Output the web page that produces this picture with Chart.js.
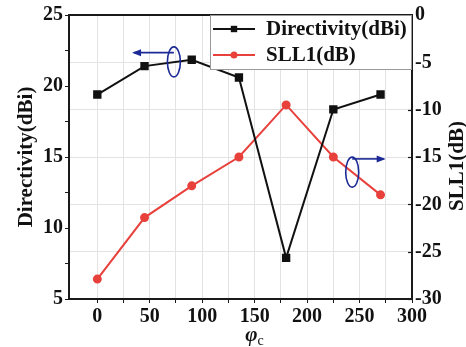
<!DOCTYPE html>
<html>
<head>
<meta charset="utf-8">
<script src="https://cdn.jsdelivr.net/npm/chart.js@4.4.1/dist/chart.umd.min.js"></script>
<style>
  html, body { margin: 0; padding: 0; background: #fff; }
  #wrap { width: 466px; height: 347px; }
</style>
</head>
<body>
<div id="wrap"><canvas id="c"></canvas></div>
<script>
// data
const phiC = [0, 45, 90, 135, 180, 225, 270];
const directivity = [19.4, 21.4, 21.85, 20.6, 7.9, 18.35, 19.4];
const sll1 = [-27.9, -21.4, -18.05, -15.0, -9.5, -15.0, -19.0];
const xTicks = [0, 25, 50, 75, 100, 125, 150, 175, 200, 225, 250, 275, 300];

const FONT = 'Liberation Serif';
const RED = '#e8413c';
const NAVY = '#1b2a96';

const toPts = (xs, ys) => xs.map((x, i) => ({ x: x, y: ys[i] }));

// box, legend, axis titles, blue ellipse+arrow marks
const decorPlugin = {
  id: 'decor',
  afterDatasetsDraw(chart) {
    const { ctx, chartArea: a, scales } = chart;
    const xs = scales.x, yl = scales.yL, yr = scales.yR;
    ctx.save();

    // frame
    ctx.strokeStyle = '#1a1a1a';
    ctx.lineWidth = 2;
    ctx.strokeRect(a.left, a.top, a.right - a.left, a.bottom - a.top);

    // inward ticks on the right axis
    ctx.lineWidth = 1.2;
    yr.ticks.forEach(t => {
      const py = Math.round(yr.getPixelForValue(t.value)) + 0.5;
      ctx.beginPath();
      ctx.moveTo(a.right - 4, py);
      ctx.lineTo(a.right, py);
      ctx.stroke();
    });

    // ellipse + arrow helper
    function mark(cx, cy, ay, ex) {
      ctx.strokeStyle = NAVY;
      ctx.fillStyle = NAVY;
      ctx.lineWidth = 1.6;
      ctx.beginPath();
      ctx.ellipse(cx, cy, 6.5, 15, 0, 0, Math.PI * 2);
      ctx.stroke();
      ctx.beginPath();
      ctx.moveTo(cx, ay);
      ctx.lineTo(ex, ay);
      ctx.stroke();
      const d = ex < cx ? -1 : 1;
      ctx.beginPath();
      ctx.moveTo(ex + d * 2, ay);
      ctx.lineTo(ex - d * 7, ay - 3.5);
      ctx.lineTo(ex - d * 7, ay + 3.5);
      ctx.closePath();
      ctx.fill();
    }
    mark(xs.getPixelForValue(73), yl.getPixelForValue(21.7),
         yl.getPixelForValue(22.35), xs.getPixelForValue(35));
    mark(xs.getPixelForValue(243), yr.getPixelForValue(-16.6),
         yr.getPixelForValue(-15.2), xs.getPixelForValue(273));

    // legend
    const lx = 210, ly = a.top, lw = a.right - lx, lh = 55;
    ctx.fillStyle = '#fff';
    ctx.fillRect(lx, ly, lw, lh);
    ctx.strokeStyle = '#9a9a9a';
    ctx.lineWidth = 1;
    ctx.strokeRect(lx + 0.5, ly + 0.5, lw - 1, lh - 1);
    chart.data.datasets.forEach((ds, i) => {
      const yy = ly + 14 + i * 26;
      ctx.strokeStyle = ds.borderColor;
      ctx.lineWidth = 2;
      ctx.beginPath();
      ctx.moveTo(lx + 3, yy);
      ctx.lineTo(lx + 45, yy);
      ctx.stroke();
      ctx.fillStyle = ds.borderColor;
      if (ds.pointStyle === 'rect') {
        ctx.fillRect(lx + 24 - 3.2, yy - 3.2, 6.4, 6.4);
      } else {
        ctx.beginPath();
        ctx.arc(lx + 24, yy, 3.5, 0, Math.PI * 2);
        ctx.fill();
      }
      ctx.fillStyle = '#111';
      ctx.font = 'bold 21px "' + FONT + '"';
      ctx.textBaseline = 'middle';
      ctx.textAlign = 'left';
      ctx.fillText(ds.label, lx + 56, yy + 1);
    });

    // axis titles
    ctx.fillStyle = '#111';
    ctx.font = 'bold 21px "' + FONT + '"';
    ctx.textAlign = 'center';
    ctx.textBaseline = 'middle';
    ctx.save();
    ctx.translate(27, 157);
    ctx.rotate(-Math.PI / 2);
    ctx.fillText('Directivity(dBi)', 0, 0);
    ctx.restore();
    ctx.save();
    ctx.translate(458, 166);
    ctx.rotate(-Math.PI / 2);
    ctx.fillText('SLL1(dB)', 0, 0);
    ctx.restore();

    // x title: phi_c
    const xm = (a.left + a.right) / 2 + 14;
    ctx.font = 'italic bold 21px "' + FONT + '"';
    ctx.textAlign = 'right';
    ctx.fillText('\u03c6', xm + 3, 336);
    ctx.font = '14px "' + FONT + '"';
    ctx.textAlign = 'left';
    ctx.fillText('c', xm + 3, 341);

    ctx.restore();
  }
};

new Chart(document.getElementById('c'), {
  type: 'line',
  data: {
    datasets: [
      {
        label: 'Directivity(dBi)',
        data: toPts(phiC, directivity),
        yAxisID: 'yL',
        borderColor: '#111111',
        backgroundColor: '#111111',
        borderWidth: 2,
        pointStyle: 'rect',
        pointRadius: 4.5,
        tension: 0
      },
      {
        label: 'SLL1(dB)',
        data: toPts(phiC, sll1),
        yAxisID: 'yR',
        borderColor: RED,
        backgroundColor: RED,
        borderWidth: 2,
        pointStyle: 'circle',
        pointRadius: 3.5,
        tension: 0
      }
    ]
  },
  options: {
    responsive: true,
    maintainAspectRatio: false,
    animation: false,
    layout: { padding: { top: 15, left: 0, right: 0, bottom: 0 } },
    plugins: { legend: { display: false }, tooltip: { enabled: false } },
    scales: {
      x: {
        type: 'linear',
        min: -27,
        max: 300,
        afterBuildTicks: s => { s.ticks = xTicks.map(v => ({ value: v })); },
        afterFit: s => { s.height = 48; },
        grid: { color: '#e3e3e3', tickColor: '#1a1a1a', tickLength: 4, lineWidth: 1 },
        border: { display: false },
        ticks: {
          color: '#111',
          padding: 2,
          font: { family: FONT, size: 20, weight: 'bold' },
          maxRotation: 0,
          autoSkip: false,
          callback: v => (v % 50 === 0 ? v : '')
        }
      },
      yL: {
        type: 'linear',
        position: 'left',
        min: 5,
        max: 25,
        afterFit: s => { s.width = 69; },
        grid: { drawOnChartArea: false, tickColor: '#1a1a1a', tickLength: 4 },
        border: { display: false },
        ticks: {
          stepSize: 2.5,
          color: '#111',
          padding: 2,
          font: { family: FONT, size: 20, weight: 'bold' },
          callback: v => (v % 5 === 0 ? v : '')
        }
      },
      yR: {
        type: 'linear',
        position: 'right',
        min: -30,
        max: 0,
        afterFit: s => { s.width = 54; },
        grid: { drawOnChartArea: true, color: '#e3e3e3', drawTicks: false },
        border: { display: false },
        ticks: {
          stepSize: 2.5,
          color: '#111',
          padding: 3,
          font: { family: FONT, size: 20, weight: 'bold' },
          callback: v => (v % 5 === 0 ? v : '')
        }
      }
    }
  },
  plugins: [decorPlugin]
});
</script>
</body>
</html>
